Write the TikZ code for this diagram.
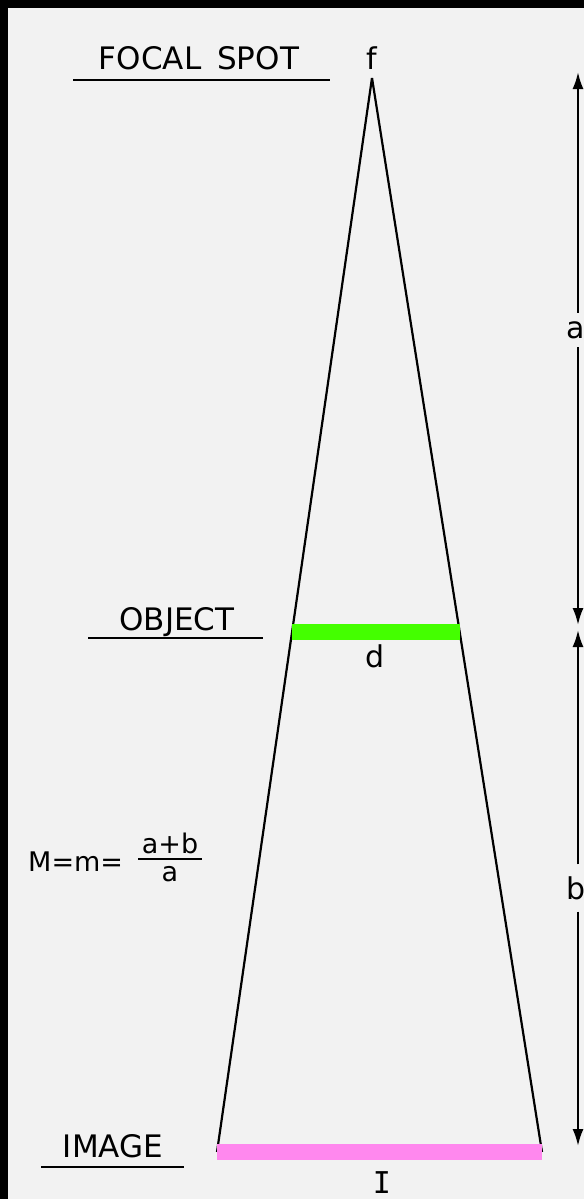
\documentclass[tikz,border=0pt]{standalone}
\usepackage{fontspec}
\setmainfont{DejaVu Sans}
\newfontfamily\barfont{DejaVu Sans Mono}
\usetikzlibrary{calc, arrows.meta}

\begin{document}
\begin{tikzpicture}[x=1pt, y=-1pt,
    rayline/.style={line width=2.2pt},
    underline/.style={line width=2.6pt},
    dimline/.style={line width=2.2pt, -{Latex[length=17pt, width=11pt]}},
    caption/.style={font=\fontsize{31}{36}\selectfont, inner sep=0pt, anchor=base},
    letter/.style={font=\fontsize{30}{36}\selectfont, inner sep=0pt},
    formula/.style={font=\fontsize{27}{32}\selectfont, inner sep=0pt},
    bar/.style={line width=16pt, line cap=butt}]
    % Define colours
    \definecolor{paperColour}{HTML}{F2F2F2}
    \definecolor{objectColour}{HTML}{44FF00}
    \definecolor{imageColour}{HTML}{FF88EE}

    % Define where the object sits between focal spot and image
    \def\objectRatio{0.5158}

    % Draw black edge and paper
    \fill[black] (0,0) rectangle (584,1199);
    \fill[paperColour] (8,8) rectangle (584,1199);
    \useasboundingbox (0,0) rectangle (584,1199);

    % Define coordinates for the focal spot and the image edges
    \coordinate (f) at (372,78);
    \coordinate (imageLeft) at (217,1152);
    \coordinate (imageRight) at (542,1152);
    \coordinate (objectLeft) at ($(f)!\objectRatio!(imageLeft)$);
    \coordinate (objectRight) at ($(f)!\objectRatio!(imageRight)$);

    % Draw the rays
    \draw[rayline] (f) -- (imageLeft);
    \draw[rayline] (f) -- (imageRight);

    % Draw object and image
    \draw[bar, objectColour] (objectLeft) -- (objectRight);
    \draw[bar, imageColour] (imageLeft) -- (imageRight);

    % Label focal spot, object and image
    \node[letter, anchor=base] (fLabel) at (372,70) {f};
    \node[letter, anchor=base] (dLabel) at (375,667) {d};
    \node[letter, anchor=base, font=\fontsize{30}{36}\barfont] (iLabel) at (382,1193) {I};

    % Captions on the left, underlined
    \node[caption] (focalSpot) at (199,70) {FOCAL\hspace{16pt}SPOT};
    \coordinate (focalStart) at (73,80);
    \coordinate (focalEnd) at (330,80);
    \draw[underline] (focalStart) -- (focalEnd);

    \node[caption] (object) at (177,630) {OBJECT};
    \coordinate (objectStart) at (88,638);
    \coordinate (objectEnd) at (263,638);
    \draw[underline] (objectStart) -- (objectEnd);

    \node[caption] (image) at (113,1157) {IMAGE};
    \coordinate (imageStart) at (41,1167);
    \coordinate (imageEnd) at (184,1167);
    \draw[underline] (imageStart) -- (imageEnd);

    % Magnification formula
    \node[formula, anchor=base west] (magnification) at (28,871) {M=m=};
    \node[formula, anchor=base] (numerator) at (170,853) {a+b};
    \node[formula, anchor=north] (denominator) at (170,866) {a};
    \coordinate (fractionLeft) at (138,859);
    \coordinate (fractionRight) at (202,859);
    \draw[underline] (fractionLeft) -- (fractionRight);

    % Dimension arrows on the right
    \coordinate (aTop) at (578,72);
    \coordinate (aBottom) at (578,625);
    \coordinate (bTop) at (578,630);
    \coordinate (bBottom) at (578,1146);
    \node[letter, minimum height=34pt] (aLabel) at (576,330) {a};
    \node[letter, minimum height=47pt] (bLabel) at (576,888) {b};
    \draw[dimline] (aLabel.north -| aTop) -- (aTop);
    \draw[dimline] (aLabel.south -| aBottom) -- (aBottom);
    \draw[dimline] (bLabel.north -| bTop) -- (bTop);
    \draw[dimline] (bLabel.south -| bBottom) -- (bBottom);

\end{tikzpicture}
\end{document}
